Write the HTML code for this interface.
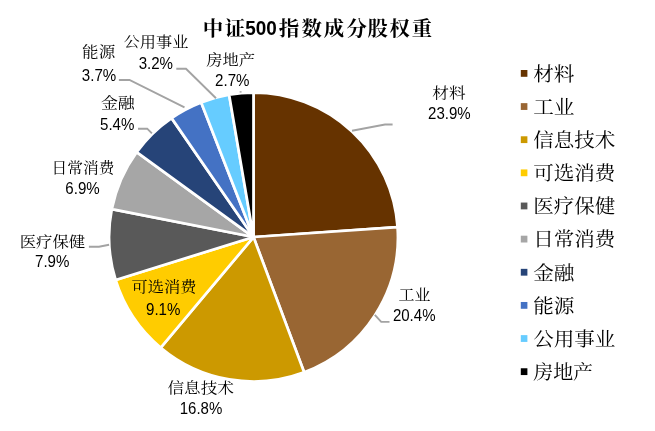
<!DOCTYPE html>
<html lang="zh"><head><meta charset="utf-8"><title>中证500指数成分股权重</title>
<style>
html,body{margin:0;padding:0;background:#fff;}
body{width:655px;height:431px;overflow:hidden;}
svg{display:block;}
text{font-family:"Liberation Sans","Noto Serif CJK SC",serif;fill:#000;}
.ttl{font-family:"Liberation Sans","Noto Serif CJK SC",serif;font-weight:700;font-size:20.4px;text-anchor:middle;}
.tn{font-weight:bold;font-size:21px;text-anchor:middle;}
.lb{font-weight:400;font-size:14.6px;text-anchor:middle;}
.pc{font-size:17.2px;text-anchor:middle;}
.lg{font-weight:400;font-size:19.2px;}
</style></head><body>
<svg width="655" height="431" viewBox="0 0 655 431">
<rect width="655" height="431" fill="#fff"/>
<text x="212.9 235.05" y="36.2" class="ttl">中证</text><text x="261.05" y="35.4" class="tn" textLength="31.6" lengthAdjust="spacingAndGlyphs">500</text><text x="288.85 311.6 334 356.6 377.8 399.6 422" y="36.2" class="ttl">指数成分股权重</text>
<g stroke="#fff" stroke-width="2.7" stroke-linejoin="round">
<path d="M253.50,237.05 L253.50,92.65 A144.4,144.4 0 0 1 397.56,227.08 Z" fill="#663300"/>
<path d="M253.50,237.05 L397.56,227.08 A144.4,144.4 0 0 1 304.12,372.29 Z" fill="#996633"/>
<path d="M253.50,237.05 L304.12,372.29 A144.4,144.4 0 0 1 160.76,347.73 Z" fill="#CC9900"/>
<path d="M253.50,237.05 L160.76,347.73 A144.4,144.4 0 0 1 115.62,279.94 Z" fill="#FFCC00"/>
<path d="M253.50,237.05 L115.62,279.94 A144.4,144.4 0 0 1 111.83,209.10 Z" fill="#595959"/>
<path d="M253.50,237.05 L111.83,209.10 A144.4,144.4 0 0 1 136.68,152.17 Z" fill="#A6A6A6"/>
<path d="M253.50,237.05 L136.68,152.17 A144.4,144.4 0 0 1 171.59,118.13 Z" fill="#264478"/>
<path d="M253.50,237.05 L171.59,118.13 A144.4,144.4 0 0 1 201.19,102.46 Z" fill="#4472C4"/>
<path d="M253.50,237.05 L201.19,102.46 A144.4,144.4 0 0 1 229.12,94.72 Z" fill="#66CCFF"/>
<path d="M253.50,237.05 L229.12,94.72 A144.4,144.4 0 0 1 253.50,92.65 Z" fill="#000000"/>
</g>
<path d="M352,130.7 L385,124.5 L392.6,124.5" fill="none" stroke="#A3A3A3" stroke-width="1.9"/><path d="M374.8,314.9 L381.2,321.9 L389.5,321.9" fill="none" stroke="#A3A3A3" stroke-width="1.9"/><path d="M88.9,246.8 L99,246.8 L109.1,244.8" fill="none" stroke="#A3A3A3" stroke-width="1.9"/><path d="M138,128.7 L147.2,128.7 L151.9,133.4" fill="none" stroke="#A3A3A3" stroke-width="1.9"/><path d="M118.9,80 L129.5,80 L184.5,107.4" fill="none" stroke="#A3A3A3" stroke-width="1.9"/><path d="M176.3,68.7 L186,68.7 L216,98.3" fill="none" stroke="#A3A3A3" stroke-width="1.9"/><path d="M240.6,91.2 L240.6,92.6" fill="none" stroke="#A3A3A3" stroke-width="1.9"/>
<text x="448.90" y="97.50" class="lb" textLength="33.4" lengthAdjust="spacingAndGlyphs">材料</text><text x="449.40" y="118.70" class="pc" textLength="42.6" lengthAdjust="spacingAndGlyphs">23.9%</text><text x="414.45" y="299.70" class="lb" textLength="31.9" lengthAdjust="spacingAndGlyphs">工业</text><text x="414.20" y="320.70" class="pc" textLength="42.6" lengthAdjust="spacingAndGlyphs">20.4%</text><text x="200.75" y="392.60" class="lb" textLength="66.5" lengthAdjust="spacingAndGlyphs">信息技术</text><text x="201.00" y="413.50" class="pc" textLength="42.6" lengthAdjust="spacingAndGlyphs">16.8%</text><text x="163.95" y="292.10" class="lb" textLength="65.1" lengthAdjust="spacingAndGlyphs">可选消费</text><text x="163.20" y="314.60" class="pc" textLength="34.4" lengthAdjust="spacingAndGlyphs">9.1%</text><text x="52.40" y="247.10" class="lb" textLength="65.4" lengthAdjust="spacingAndGlyphs">医疗保健</text><text x="52.20" y="267.40" class="pc" textLength="34.4" lengthAdjust="spacingAndGlyphs">7.9%</text><text x="83.00" y="172.90" class="lb" textLength="62.8" lengthAdjust="spacingAndGlyphs">日常消费</text><text x="82.55" y="194.30" class="pc" textLength="34.4" lengthAdjust="spacingAndGlyphs">6.9%</text><text x="117.85" y="108.20" class="lb" textLength="33.9" lengthAdjust="spacingAndGlyphs">金融</text><text x="117.20" y="129.50" class="pc" textLength="34.4" lengthAdjust="spacingAndGlyphs">5.4%</text><text x="98.65" y="57.30" class="lb" textLength="33.1" lengthAdjust="spacingAndGlyphs">能源</text><text x="99.00" y="80.80" class="pc" textLength="34.4" lengthAdjust="spacingAndGlyphs">3.7%</text><text x="156.00" y="47.40" class="lb" textLength="64.8" lengthAdjust="spacingAndGlyphs">公用事业</text><text x="155.85" y="68.90" class="pc" textLength="34.4" lengthAdjust="spacingAndGlyphs">3.2%</text><text x="230.65" y="64.80" class="lb" textLength="48.9" lengthAdjust="spacingAndGlyphs">房地产</text><text x="232.30" y="86.30" class="pc" textLength="34.4" lengthAdjust="spacingAndGlyphs">2.7%</text>
<rect x="520.8" y="70.00" width="6.6" height="6.8" fill="#663300"/><text x="533.20" y="80.70" class="lg" textLength="41.3" lengthAdjust="spacingAndGlyphs">材料</text><rect x="520.8" y="103.14" width="6.6" height="6.8" fill="#996633"/><text x="533.20" y="113.84" class="lg" textLength="41.3" lengthAdjust="spacingAndGlyphs">工业</text><rect x="520.8" y="136.28" width="6.6" height="6.8" fill="#CC9900"/><text x="533.20" y="146.98" class="lg" textLength="82.2" lengthAdjust="spacingAndGlyphs">信息技术</text><rect x="520.8" y="169.42" width="6.6" height="6.8" fill="#FFCC00"/><text x="533.20" y="180.12" class="lg" textLength="82.2" lengthAdjust="spacingAndGlyphs">可选消费</text><rect x="520.8" y="202.56" width="6.6" height="6.8" fill="#595959"/><text x="533.20" y="213.26" class="lg" textLength="82.2" lengthAdjust="spacingAndGlyphs">医疗保健</text><rect x="520.8" y="235.70" width="6.6" height="6.8" fill="#A6A6A6"/><text x="533.20" y="246.40" class="lg" textLength="82.2" lengthAdjust="spacingAndGlyphs">日常消费</text><rect x="520.8" y="268.84" width="6.6" height="6.8" fill="#264478"/><text x="533.20" y="279.54" class="lg" textLength="41.3" lengthAdjust="spacingAndGlyphs">金融</text><rect x="520.8" y="301.98" width="6.6" height="6.8" fill="#4472C4"/><text x="533.20" y="312.68" class="lg" textLength="41.3" lengthAdjust="spacingAndGlyphs">能源</text><rect x="520.8" y="335.12" width="6.6" height="6.8" fill="#66CCFF"/><text x="533.20" y="345.82" class="lg" textLength="82.2" lengthAdjust="spacingAndGlyphs">公用事业</text><rect x="520.8" y="368.26" width="6.6" height="6.8" fill="#000000"/><text x="533.20" y="378.96" class="lg" textLength="59.9" lengthAdjust="spacingAndGlyphs">房地产</text>
</svg>
</body></html>
